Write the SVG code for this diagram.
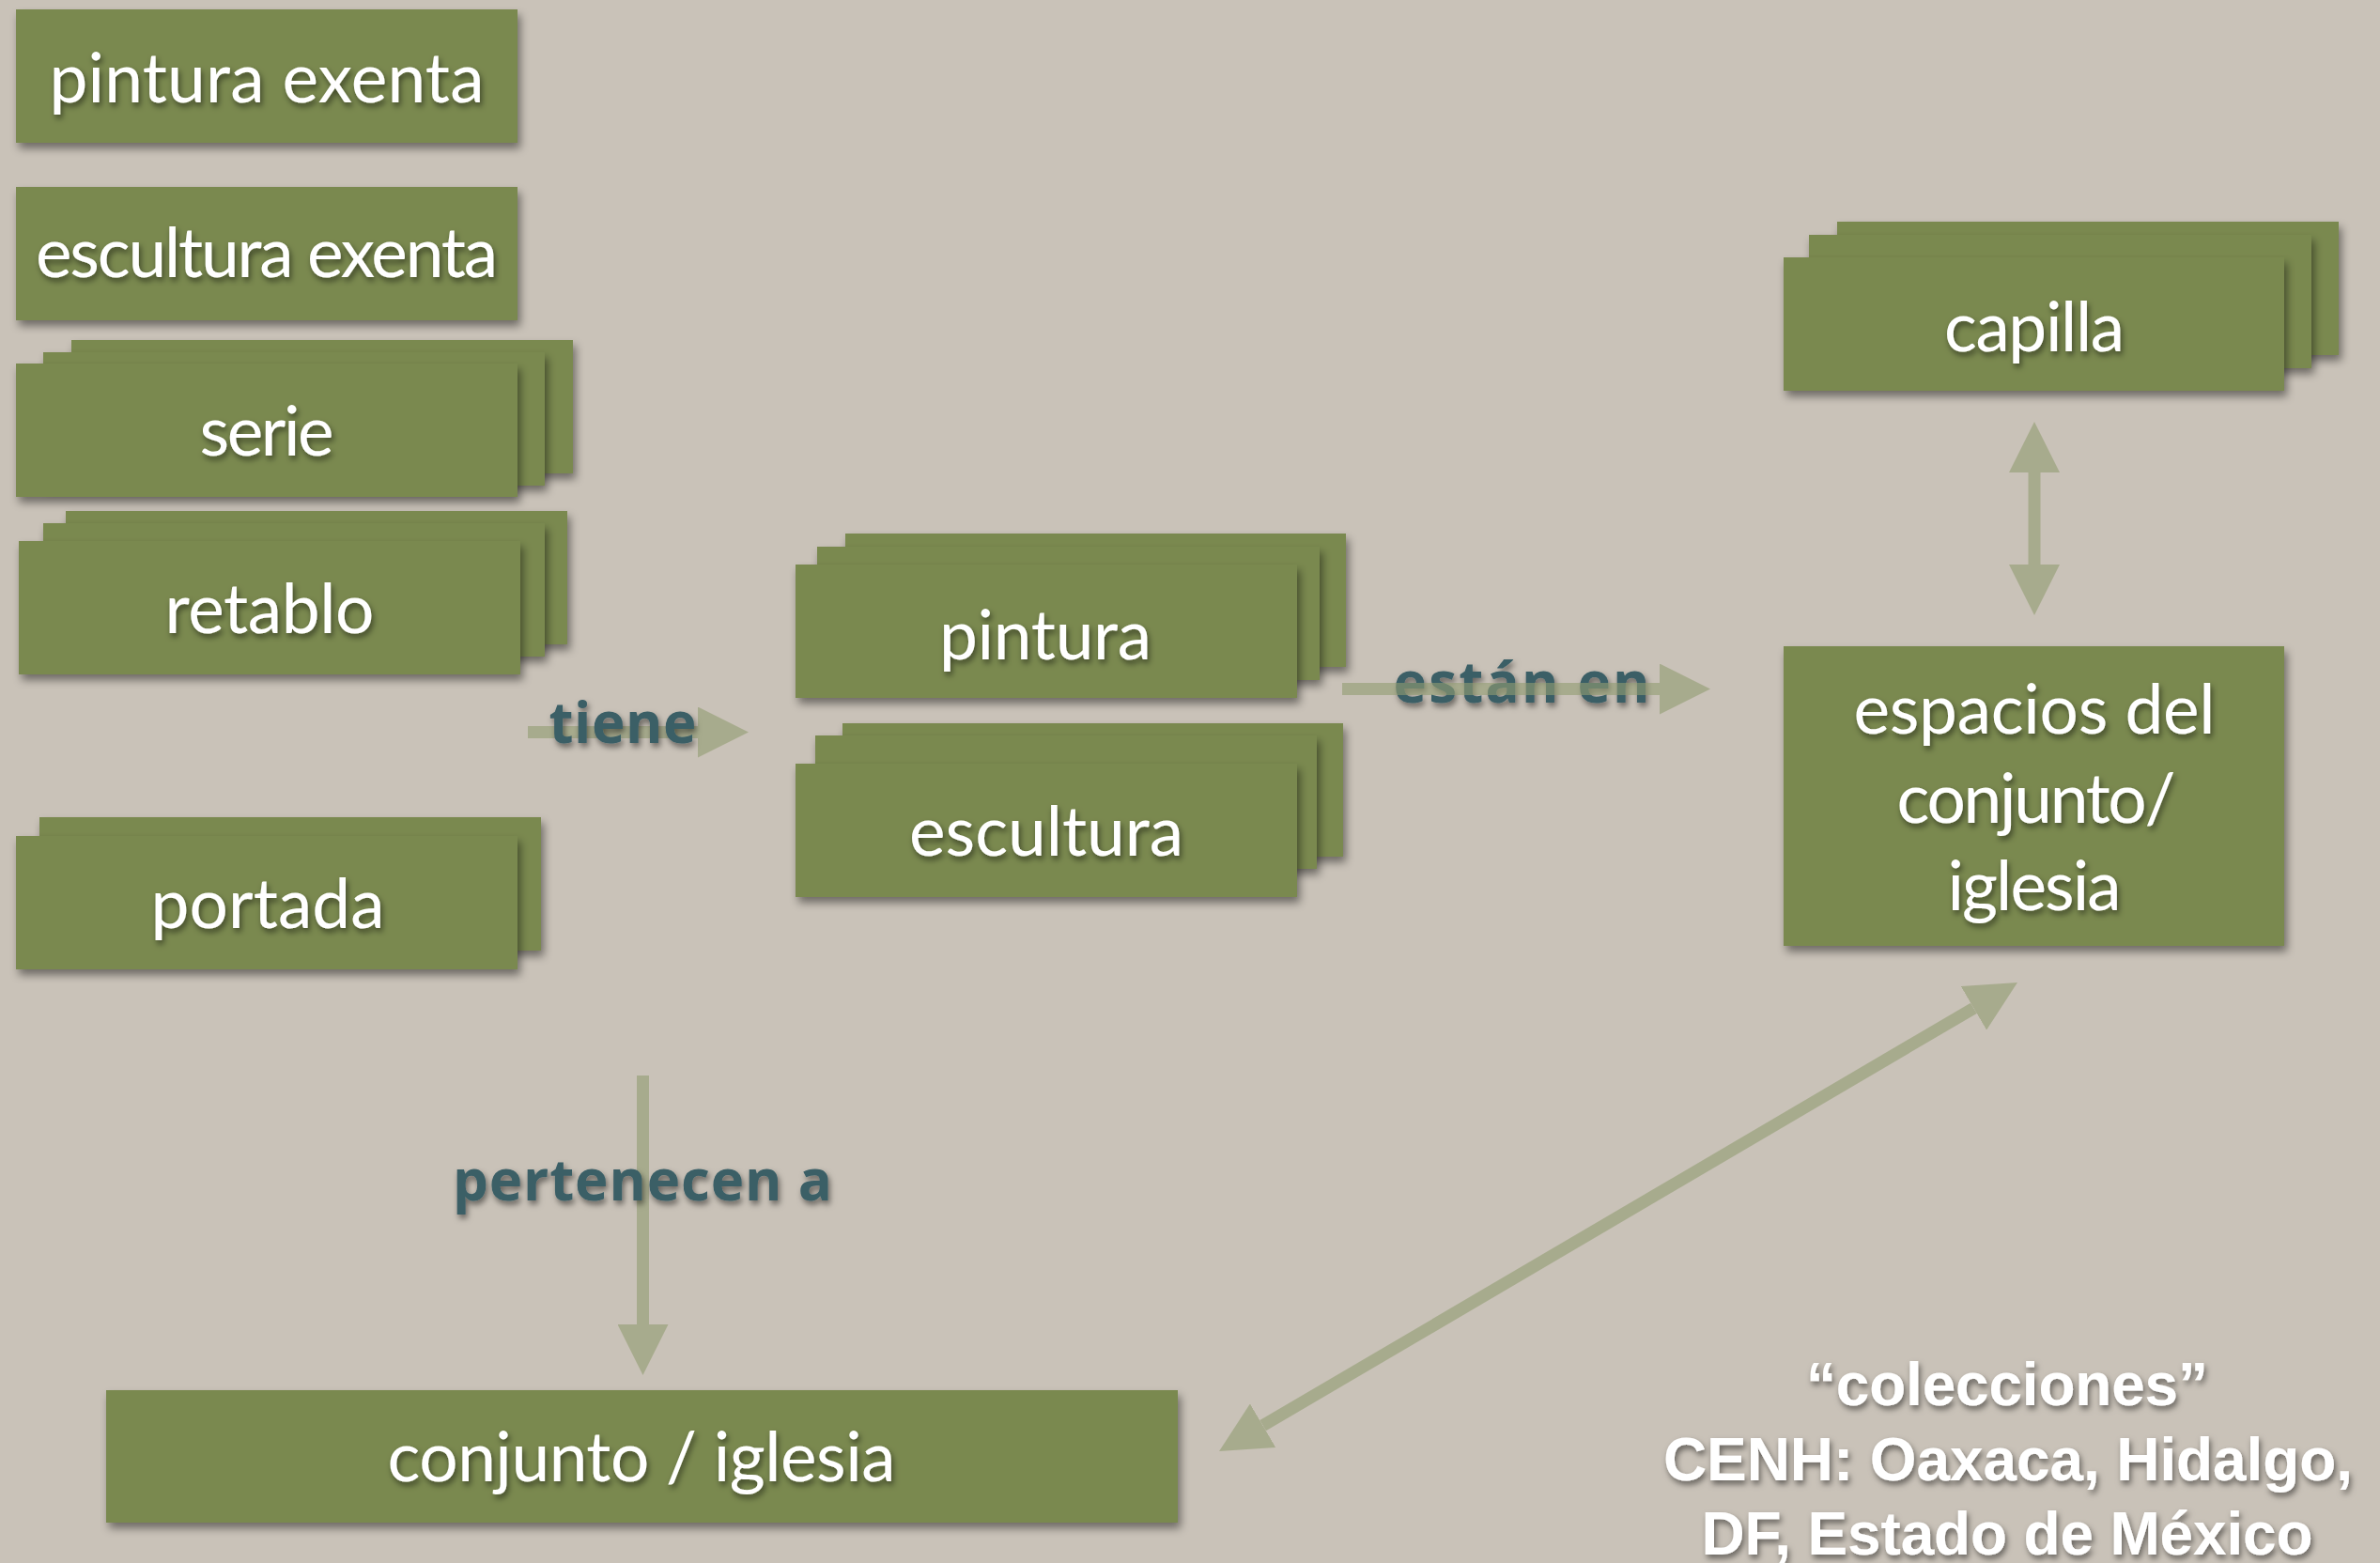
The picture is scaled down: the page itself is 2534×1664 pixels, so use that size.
<svg xmlns="http://www.w3.org/2000/svg" width="2534" height="1664" viewBox="0 0 2534 1664">
<defs>
<filter id="boxShadow" x="-10%" y="-20%" width="130%" height="150%">
<feDropShadow dx="3" dy="6" stdDeviation="5" flood-color="#000" flood-opacity="0.45"/>
</filter>
<filter id="textShadow" x="-10%" y="-30%" width="130%" height="170%">
<feDropShadow dx="2" dy="4" stdDeviation="3" flood-color="#000" flood-opacity="0.5"/>
</filter>
<marker id="head" markerUnits="userSpaceOnUse" markerWidth="54" markerHeight="54" viewBox="0 0 54 54" refX="0" refY="27" orient="auto-start-reverse">
<path d="M0,0 L54,27 L0,54 z" fill="#929d72"/>
</marker>
<style>
.box{fill:#7a8950;filter:url(#boxShadow)}
.lbl{font-family:Lato,"Open Sans","Liberation Sans",sans-serif;font-size:73px;fill:#fff;text-anchor:middle;filter:url(#textShadow)}
.rel{font-family:"Open Sans","Noto Sans","Liberation Sans",sans-serif;font-weight:700;font-size:60px;fill:#3a5e66;text-anchor:middle;filter:url(#textShadow)}
.note{font-family:"Liberation Sans",Arial,sans-serif;font-weight:700;font-size:64px;fill:#fff;text-anchor:middle;filter:url(#textShadow)}
.arr{stroke:#929d72;stroke-width:13;fill:none;marker-end:url(#head)}
.arr2{stroke:#929d72;stroke-width:13;fill:none;marker-start:url(#head);marker-end:url(#head)}
</style>
</defs>
<rect x="0" y="0" width="2534" height="1664" fill="#c9c2b8"/>

<g id="pintura-exenta">
<rect class="box" x="17" y="10" width="534" height="142"/>
<text class="lbl" x="284" y="109" textLength="463">pintura exenta</text>
</g>
<g id="escultura-exenta">
<rect class="box" x="17" y="199" width="534" height="142"/>
<text class="lbl" x="284" y="295" textLength="492">escultura exenta</text>
</g>
<g id="serie">
<rect class="box" x="76" y="362" width="534" height="142"/>
<rect class="box" x="46" y="375" width="534" height="142"/>
<rect class="box" x="17" y="387" width="534" height="142"/>
<text class="lbl" x="284" y="485" textLength="143">serie</text>
</g>
<g id="retablo">
<rect class="box" x="70" y="544" width="534" height="142"/>
<rect class="box" x="46" y="557" width="534" height="142"/>
<rect class="box" x="20" y="576" width="534" height="142"/>
<text class="lbl" x="287" y="674" textLength="223">retablo</text>
</g>
<g id="portada">
<rect class="box" x="42" y="870" width="534" height="142"/>
<rect class="box" x="17" y="890" width="534" height="142"/>
<text class="lbl" x="285" y="988" textLength="249">portada</text>
</g>
<g id="pintura">
<rect class="box" x="900" y="568" width="533" height="142"/>
<rect class="box" x="870" y="582" width="535" height="142"/>
<rect class="box" x="847" y="601" width="534" height="142"/>
<text class="lbl" x="1113" y="702" textLength="226">pintura</text>
</g>
<g id="escultura">
<rect class="box" x="897" y="770" width="533" height="142"/>
<rect class="box" x="868" y="783" width="534" height="142"/>
<rect class="box" x="847" y="813" width="534" height="142"/>
<text class="lbl" x="1114" y="911" textLength="292">escultura</text>
</g>
<g id="capilla">
<rect class="box" x="1956" y="236" width="534" height="142"/>
<rect class="box" x="1926" y="250" width="535" height="142"/>
<rect class="box" x="1899" y="274" width="533" height="142"/>
<text class="lbl" x="2166" y="374" textLength="192">capilla</text>
</g>
<g id="espacios">
<rect class="box" x="1899" y="688" width="533" height="319"/>
<text class="lbl" x="2166" y="781" textLength="385">espacios del</text>
<text class="lbl" x="2168" y="876" textLength="297">conjunto/</text>
<text class="lbl" x="2166" y="969" textLength="185">iglesia</text>
</g>
<g id="conjunto-iglesia">
<rect class="box" x="113" y="1480" width="1141" height="141"/>
<text class="lbl" x="683" y="1577" textLength="541">conjunto / iglesia</text>
</g>

<g id="connectors">
<g opacity="0.6"><line class="arr" x1="562" y1="779.5" x2="743" y2="779.5"/></g>
<text class="rel" x="663" y="791" textLength="157">tiene</text>
<text class="rel" x="1620" y="748" textLength="273">están en</text>
<g opacity="0.6"><line class="arr" x1="1429" y1="733.5" x2="1767" y2="733.5"/></g>
<g opacity="0.6"><line class="arr2" x1="2166" y1="503" x2="2166" y2="601"/></g>
<g opacity="0.6"><line class="arr" x1="684.5" y1="1145" x2="684.5" y2="1410"/></g>
<text class="rel" x="684" y="1278" textLength="404">pertenecen a</text>
<g opacity="0.6"><line class="arr2" x1="1344.6" y1="1517.7" x2="2101.4" y2="1073.3"/></g>
</g>

<g id="note">
<text class="note" x="2137" y="1496" textLength="428">“colecciones”</text>
<text class="note" x="2138" y="1576" textLength="734">CENH: Oaxaca, Hidalgo,</text>
<text class="note" x="2137" y="1655" textLength="651">DF, Estado de México</text>
</g>
</svg>
